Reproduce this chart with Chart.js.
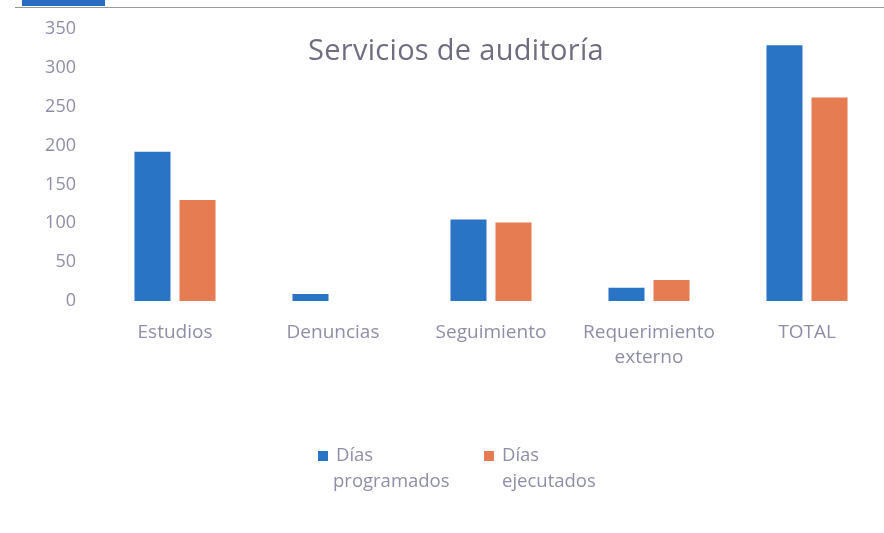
<!DOCTYPE html>
<html>
<head>
<meta charset="utf-8">
<script src="https://cdn.jsdelivr.net/npm/chart.js@4.4.0/dist/chart.umd.min.js"></script>
<style>
  body { margin: 0; background: #fff; overflow: hidden; font-family: "Open Sans", sans-serif; }
  #wrap { position: relative; width: 890px; height: 533px; }
  #tab { position: absolute; left: 22px; top: 0; width: 83px; height: 6px; background: #2a6cc0; }
  #rule { position: absolute; left: 15px; top: 7px; width: 875px; height: 1px; background: #9a9a9a; }
  #titulo { position: absolute; left: 0; width: 912px; top: 29px; text-align: center;
    font-size: 29px; color: #6e6e80; letter-spacing: 0.3px; }
  .ley { position: absolute; top: 441px; font-size: 18.5px; color: #8e8ea8; line-height: 26px; }
  .ley span.sq { display: inline-block; width: 10px; height: 10px; margin-right: 8px; }
</style>
</head>
<body>
<div id="wrap">
  <canvas id="servicios" width="890" height="533"></canvas>
  <div id="tab"></div>
  <div id="rule"></div>
  <div id="titulo">Servicios de auditoría</div>
  <div class="ley" style="left:318px"><span class="sq" style="background:#2a74c6"></span>Días<br><span style="padding-left:15px">programados</span></div>
  <div class="ley" style="left:484px"><span class="sq" style="background:#e57c52"></span>Días<br><span style="padding-left:18px">ejecutados</span></div>
</div>
<script>
var categorias = [["Estudios"], ["Denuncias"], ["Seguimiento"], ["Requerimiento", "externo"], ["TOTAL"]];
var diasProgramados = [192, 9, 105, 17, 329];
var diasEjecutados = [130, 0, 101, 27, 262];

var colorTexto = '#8e8ea8';

var ctx = document.getElementById('servicios');
var grafico = new Chart(ctx, {
  type: 'bar',
  data: {
    labels: categorias,
    datasets: [
      {
        label: 'Días programados',
        backgroundColor: '#2a74c6',
        data: diasProgramados,
        categoryPercentage: 0.57,
        barPercentage: 0.8
      },
      {
        label: 'Días ejecutados',
        backgroundColor: '#e57c52',
        data: diasEjecutados,
        categoryPercentage: 0.57,
        barPercentage: 0.8
      }
    ]
  },
  options: {
    responsive: false,
    animation: false,
    layout: { padding: { top: 29, right: 4, bottom: 0, left: 0 } },
    plugins: {
      legend: { display: false },
      tooltip: { enabled: false },
      title: { display: false }
    },
    scales: {
      x: {
        grid: { display: false },
        border: { display: false },
        ticks: { color: colorTexto, font: { family: 'Open Sans', size: 19, lineHeight: 1.32 }, padding: 11, maxRotation: 0 },
        afterFit: function(s) { s.height = 232; }
      },
      y: {
        min: 0,
        max: 350,
        grid: { display: false },
        border: { display: false },
        ticks: { stepSize: 50, color: colorTexto, font: { family: 'Open Sans', size: 18 }, padding: 12 },
        afterFit: function(s) { s.width = 96; }
      }
    }
  }
});
</script>
</body>
</html>
